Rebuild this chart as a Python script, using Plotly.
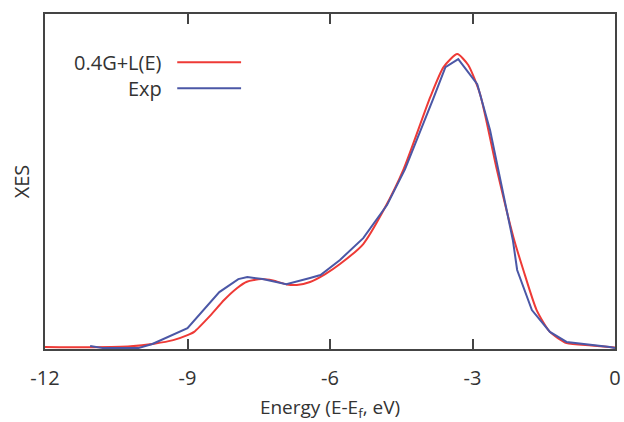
import plotly.graph_objects as go

# 0.4G+L(E) model curve (smooth)
calc_e = [-12.0, -11.0, -10.2, -9.7, -9.3, -9.0, -8.86, -8.51, -8.23, -7.96, -7.75, -7.45,
          -7.2, -6.91, -6.7, -6.42, -6.1, -5.79, -5.3, -4.87, -4.45, -3.89, -3.61, -3.32,
          -3.09, -2.84, -2.49, -2.14, -1.93, -1.65, -1.37, -1.02, -0.5, 0.0]
calc_i = [0.007, 0.006, 0.009, 0.018, 0.03, 0.047, 0.058, 0.115, 0.166, 0.206, 0.228, 0.237,
          0.232, 0.219, 0.217, 0.227, 0.254, 0.288, 0.356, 0.471, 0.61, 0.854, 0.956, 1.0,
          0.963, 0.864, 0.61, 0.38, 0.268, 0.132, 0.058, 0.02, 0.012, 0.005]

# experimental XES
exp_e = [-11.05, -10.77, -10.04, -9.74, -9.0, -8.73, -8.33, -7.93, -7.74, -7.42, -6.92,
         -6.42, -6.2, -5.79, -5.3, -4.8, -4.42, -3.83, -3.57, -3.3, -2.9, -2.63, -2.46,
         -2.15, -2.06, -1.75, -1.37, -1.02, -0.11, 0.0]
exp_i = [0.01, 0.003, 0.003, 0.017, 0.071, 0.119, 0.193, 0.237, 0.244, 0.237, 0.22,
         0.241, 0.251, 0.302, 0.376, 0.488, 0.61, 0.847, 0.956, 0.983, 0.898, 0.742, 0.614,
         0.369, 0.268, 0.132, 0.058, 0.024, 0.007, 0.003]

x_ticks = [-12, -9, -6, -3, 0]
names = ["0.4G+L(E)", "Exp"]
colors = ["#ee3a36", "#4b57a6"]

fig = go.Figure()
fig.add_trace(go.Scatter(x=calc_e, y=calc_i, mode="lines", name=names[0],
                         line=dict(color=colors[0], width=2, shape="spline", smoothing=0.6)))
fig.add_trace(go.Scatter(x=exp_e, y=exp_i, mode="lines", name=names[1],
                         line=dict(color=colors[1], width=2)))

# legend drawn by hand: text first, line sample after it
for k, (nm, col) in enumerate(zip(names, colors)):
    yk = 0.856 - k * 0.078
    fig.add_annotation(x=0.209, y=yk, xref="paper", yref="paper", text=nm,
                       showarrow=False, xanchor="right", yanchor="middle",
                       font=dict(size=20, color="#333333"))
    fig.add_shape(type="line", xref="paper", yref="paper", x0=0.232, x1=0.344,
                  y0=yk, y1=yk, line=dict(color=col, width=2))

fig.update_layout(
    width=624, height=422,
    margin=dict(l=45, r=9, t=14, b=73),
    paper_bgcolor="white", plot_bgcolor="white",
    showlegend=False,
    font=dict(family="Open Sans", color="#333333"),
)
fig.update_xaxes(
    range=[-12, 0], tickvals=x_ticks, ticktext=[str(t) for t in x_ticks],
    ticks="inside", ticklen=10, tickwidth=1.5, tickcolor="#444444",
    showline=True, linecolor="#444444", linewidth=2, mirror="ticks",
    showgrid=False, zeroline=False, tickfont=dict(size=20),
    ticklabelstandoff=10, automargin=False,
    title=dict(text="Energy (E-E<sub>f</sub>, eV)", font=dict(size=19), standoff=19),
)
fig.update_yaxes(
    range=[0, 1.136], showticklabels=False, ticks="",
    showline=True, linecolor="#444444", linewidth=2, mirror=True,
    showgrid=False, zeroline=False, automargin=False,
    title=dict(text="XES", font=dict(size=20), standoff=8),
)

fig.write_html("out.html", config={"displayModeBar": False},
               post_script="document.body.style.margin='0';")
